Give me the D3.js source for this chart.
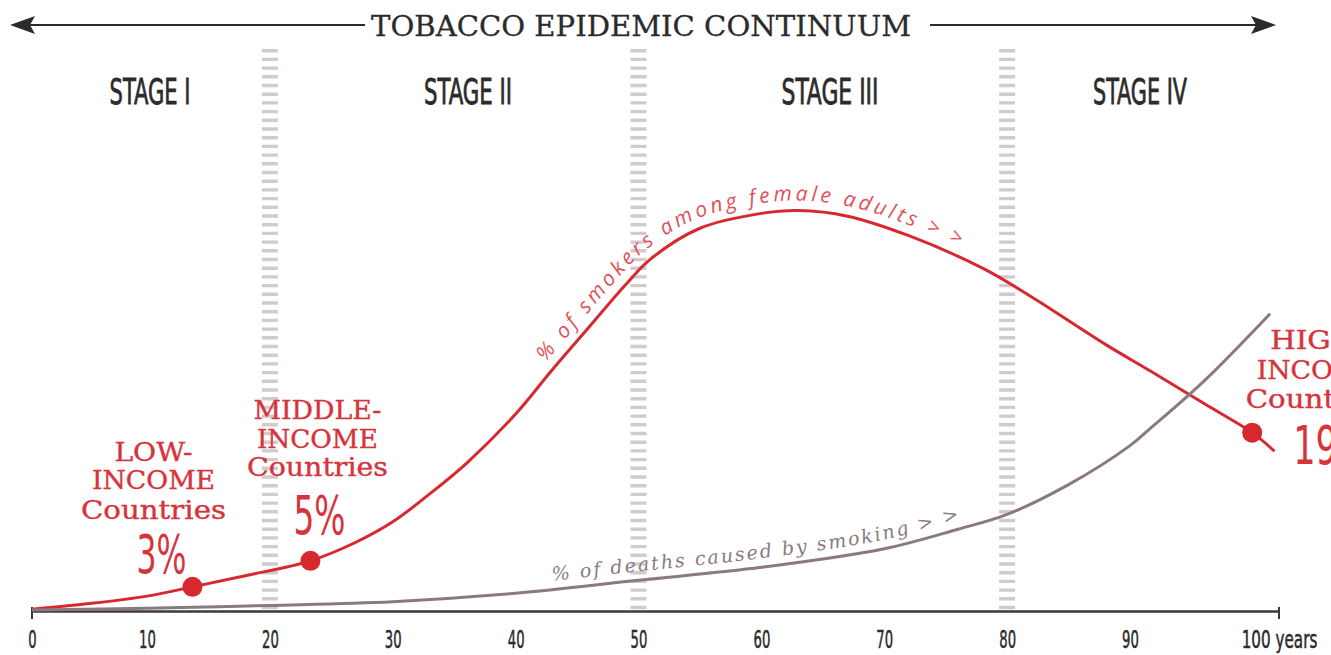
<!DOCTYPE html>
<html><head><meta charset="utf-8">
<script src="https://cdn.jsdelivr.net/npm/d3@7"></script>
<style>html,body{margin:0;padding:0;background:#fff;overflow:hidden}</style>
</head><body>
<svg id="chart" width="1331" height="655"></svg>
<script>
// ---------------- DATA ----------------
const smokerYears   = [0, 5, 10, 13.7, 18, 23.3, 27, 30, 33, 36, 40, 43, 46, 49, 51, 55, 60, 63, 67, 72, 78, 82, 88, 91.4, 95, 98.2, 99.7];
const femaleSmokers = [0.2, 0.8, 1.6, 2.6, 3.8, 5.4, 7.4, 9.6, 12.6, 15.9, 21.2, 26.0, 30.6, 35.2, 37.9, 41.2, 42.8, 43.1, 42.5, 40.4, 36.9, 33.8, 28.7, 25.8, 22.3, 19.2, 17.2];
const deathYears    = [0, 10, 20, 30, 40, 50, 60, 70, 76, 80, 85, 90, 91.4, 95, 99.4];
const smokingDeaths = [0.1, 0.3, 0.6, 1.0, 1.9, 3.3, 4.7, 6.7, 8.8, 10.4, 13.6, 17.8, 19.7, 24.8, 32.0];

const tickValues = [0, 10, 20, 30, 40, 50, 60, 70, 80, 90, 100];
const tickLabels = ["0", "10", "20", "30", "40", "50", "60", "70", "80", "90", "100 years"];

const stageBounds = [20, 50, 80];
const stageNames  = ["STAGE I", "STAGE II", "STAGE III", "STAGE IV"];

const incomeLines  = [["LOW-", "INCOME", "Countries"], ["MIDDLE-", "INCOME", "Countries"], ["HIGH-", "INCOME", "Countries"]];
const incomeYears  = [13.7, 23.3, 98.2];
const incomeShares = ["3%", "5%", "19%"];

const titleText   = "TOBACCO EPIDEMIC CONTINUUM";
const smokerLabel = "% of smokers among female adults > >";
const deathLabel  = "% of deaths caused by smoking > >";

// ---------------- LAYOUT ----------------
const baseY = 611;
const RED = "#d7282f", RED_TXT = "#d6343c", RED_LIGHT = "#e2505a";
const GREY = "#8a7a7d", STRIPE = "#d3cacb", INK = "#2b2b2b";
const narrow = "'Liberation Sans Narrow','DejaVu Sans Condensed','DejaVu Sans',sans-serif";
const slab = "'DejaVu Serif',serif";

const stageLabelPos = [{x:150, w:81}, {x:468, w:88}, {x:830, w:97}, {x:1140, w:94}];
const incomeLayout = [
  {dx:-39, pdx:-31, lineBase:[-126,-98,-68], pBase:-14, widths:[78,123,145], pw:50},
  {dx:7,   pdx:9,   lineBase:[-142,-113,-85], pBase:-27, widths:[128,121,141], pw:52},
  {dx:66,  pdx:80,  lineBase:[-84,-54,-25], pBase:31, widths:[96,123,145], pw:78}
];

const svg = d3.select("#chart");

const x = d3.scaleLinear().domain([0, 10, 90, 100]).range([32, 147, 1130, 1279]);
const y = d3.scaleLinear().domain([0, 45]).range([baseY, baseY - 45 * 9.29]);

// ---------------- TITLE ARROW ----------------
const ty = 25;
const gT = svg.append("g");
gT.append("line").attr("x1", 30).attr("x2", 365).attr("y1", ty).attr("y2", ty).attr("stroke", INK).attr("stroke-width", 2);
gT.append("line").attr("x1", 930).attr("x2", 1258).attr("y1", ty).attr("y2", ty).attr("stroke", INK).attr("stroke-width", 2);
gT.append("path").attr("d", `M10,${ty} L35,${ty-9} L30,${ty} L35,${ty+9} Z`).attr("fill", INK);
gT.append("path").attr("d", `M1276,${ty} L1251,${ty-9} L1256,${ty} L1251,${ty+9} Z`).attr("fill", INK);
gT.append("text").attr("x", 641).attr("y", 36).attr("text-anchor", "middle")
  .attr("font-family", slab).attr("font-size", 28).attr("fill", INK)
  .attr("stroke", INK).attr("stroke-width", 0.3)
  .attr("textLength", 540).attr("lengthAdjust", "spacingAndGlyphs")
  .text(titleText);

// ---------------- STAGE SEPARATORS ----------------
svg.append("g").selectAll("line").data(stageBounds).join("line")
  .attr("x1", d => x(d)).attr("x2", d => x(d)).attr("y1", 49).attr("y2", 613)
  .attr("stroke", STRIPE).attr("stroke-width", 16).attr("stroke-dasharray", "3.4,5.3");

svg.append("g").selectAll("text").data(stageNames).join("text")
  .attr("x", (d, i) => stageLabelPos[i].x).attr("y", 104).attr("text-anchor", "middle")
  .attr("font-family", narrow).attr("font-size", 36).attr("fill", INK)
  .attr("stroke", INK).attr("stroke-width", 0.8)
  .attr("textLength", (d, i) => stageLabelPos[i].w).attr("lengthAdjust", "spacingAndGlyphs")
  .text(d => d);

// ---------------- AXIS ----------------
const axis = d3.axisBottom(x).tickValues(tickValues).tickSizeInner(0).tickSizeOuter(0)
  .tickFormat((d, i) => tickLabels[i]);
const gA = svg.append("g").attr("transform", `translate(0,${baseY})`).call(axis);
gA.select(".domain").attr("stroke", "#3a3a3a").attr("stroke-width", 2.5);
gA.selectAll("text").attr("y", 37).attr("dy", 0)
  .attr("font-family", narrow).attr("font-size", 25).attr("fill", INK)
  .attr("stroke", INK).attr("stroke-width", 0.5)
  .attr("textLength", (d, i) => tickLabels[i].length * 8.4).attr("lengthAdjust", "spacingAndGlyphs");
[0, 100].forEach(v => gA.append("line").attr("x1", x(v)).attr("x2", x(v)).attr("y1", -4).attr("y2", 8)
  .attr("stroke", "#3a3a3a").attr("stroke-width", 2));

// ---------------- CURVES ----------------
const line = d3.line().x(d => x(d[0])).y(d => y(d[1])).curve(d3.curveCatmullRom.alpha(0.5));
const smokerData = smokerYears.map((t, i) => [t, femaleSmokers[i]]);
const deathData  = deathYears.map((t, i) => [t, smokingDeaths[i]]);

const redPath = svg.append("path").attr("d", line(smokerData)).attr("fill", "none")
  .attr("stroke", RED).attr("stroke-width", 3);
const greyPath = svg.append("path").attr("d", line(deathData)).attr("fill", "none")
  .attr("stroke", GREY).attr("stroke-width", 3);

// ---------------- CURVED LABELS ----------------
function offsetPath(node, d, xStart, xEnd) {
  const L = node.getTotalLength();
  const pts = [];
  for (let s = 0; s <= L; s += 1.5) {
    const p = node.getPointAtLength(s);
    const q = node.getPointAtLength(Math.min(L, s + 3));
    const r = node.getPointAtLength(Math.max(0, s - 3));
    const dx = q.x - r.x, dy = q.y - r.y, n = Math.hypot(dx, dy) || 1;
    const ox = p.x + dy / n * d, oy = p.y - dx / n * d;
    if (ox >= xStart && ox <= xEnd) pts.push([ox, oy]);
  }
  return d3.line().curve(d3.curveBasis)(pts);
}
function curvedLabel(node, id, txt, d, xs, xe, color, family, size) {
  const p = svg.append("path").attr("id", id).attr("d", offsetPath(node, d, xs, xe))
    .attr("fill", "none").attr("stroke", "none");
  const target = p.node().getTotalLength();
  const t = svg.append("text").attr("font-family", family).attr("font-size", size)
    .attr("font-style", "italic").attr("fill", color);
  t.append("textPath").attr("href", "#" + id).text(txt);
  const nat = t.node().getComputedTextLength();
  t.attr("letter-spacing", Math.max(0, (target - nat) / (txt.length - 1)));
}
curvedLabel(redPath.node(), "smokerPath", smokerLabel, 10, 545, 960, RED_LIGHT, "'Open Sans',sans-serif", 21);
curvedLabel(greyPath.node(), "deathPath", deathLabel, 9, 552, 960, GREY, slab, 19);

// ---------------- INCOME GROUP DOTS + LABELS ----------------
const dotVals = incomeYears.map(t => femaleSmokers[smokerYears.indexOf(t)]);
const gI = svg.append("g");
incomeYears.forEach((t, i) => {
  const cx = x(t), cy = y(dotVals[i]), L = incomeLayout[i];
  gI.append("circle").attr("cx", cx).attr("cy", cy).attr("r", 10).attr("fill", RED);
  incomeLines[i].forEach((ln, j) => {
    gI.append("text").attr("x", cx + L.dx).attr("y", cy + L.lineBase[j]).attr("text-anchor", "middle")
      .attr("font-family", slab).attr("font-size", 26).attr("fill", RED_TXT)
      .attr("stroke", RED_TXT).attr("stroke-width", 0.4)
      .attr("textLength", L.widths[j]).attr("lengthAdjust", "spacingAndGlyphs").text(ln);
  });
  gI.append("text").attr("x", cx + L.pdx).attr("y", cy + L.pBase).attr("text-anchor", "middle")
    .attr("font-family", narrow).attr("font-size", 54).attr("fill", RED_TXT)
    .attr("textLength", L.pw).attr("lengthAdjust", "spacingAndGlyphs").text(incomeShares[i]);
});
</script>
</body></html>
